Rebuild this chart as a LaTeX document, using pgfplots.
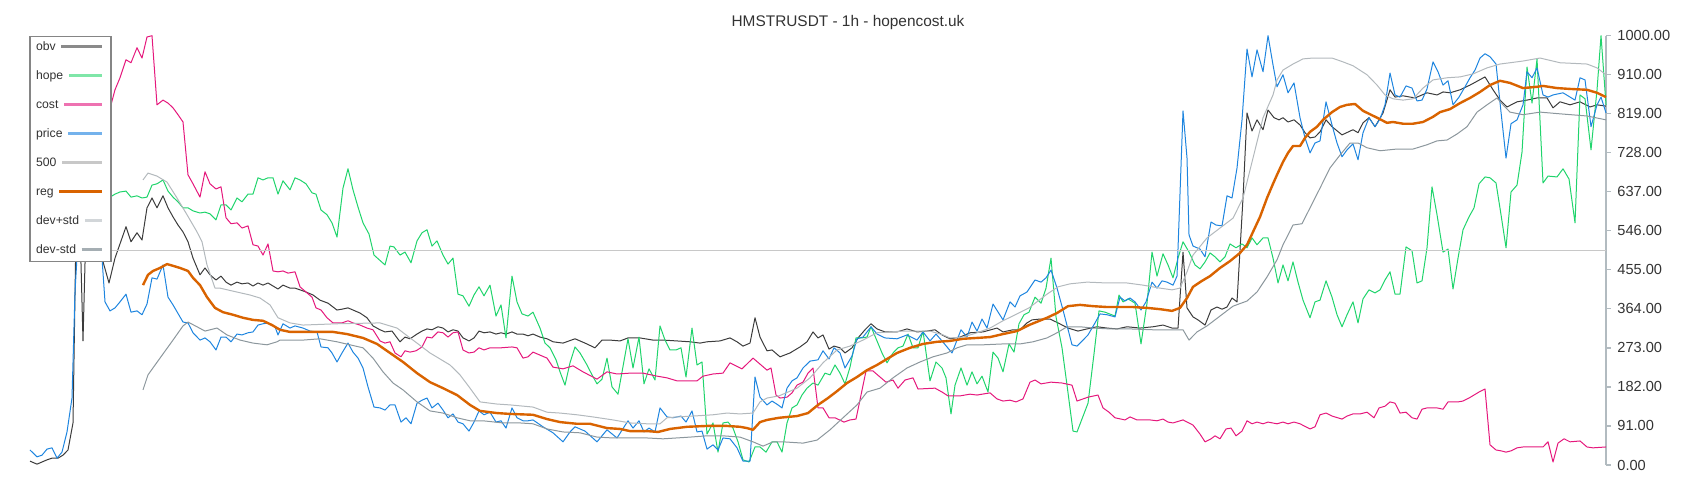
\documentclass[border=0pt]{standalone}
\usepackage{pgfplots}
\pgfplotsset{compat=1.18}
\usepackage{fontspec}
\setmainfont{Liberation Sans}
\definecolor{obvc}{HTML}{3C3C3C}\definecolor{obvleg}{HTML}{8A8A8A}
\definecolor{hopec}{HTML}{20D46C}\definecolor{hopeleg}{HTML}{7FE6A8}
\definecolor{costc}{HTML}{E5187C}\definecolor{costleg}{HTML}{EE72B1}
\definecolor{pricec}{HTML}{1E85DF}\definecolor{priceleg}{HTML}{74B2EC}
\definecolor{c500}{HTML}{C8C8C8}\definecolor{leg500}{HTML}{C8C8C8}
\definecolor{regc}{HTML}{D96300}\definecolor{regleg}{HTML}{D96300}
\definecolor{devpc}{HTML}{B3B9BD}\definecolor{devpleg}{HTML}{D2D6D9}
\definecolor{devmc}{HTML}{8C979D}\definecolor{devmleg}{HTML}{A5AEB3}
\definecolor{axisgrey}{HTML}{B2BBC0}
\definecolor{legborder}{HTML}{858585}
\definecolor{textdark}{HTML}{333333}
\newcommand{\legent}[2]{\hbox to 34.2pt{#1\hskip 2.8pt{\color{#2}\leaders\hrule height 2.9pt depth -1.3pt\hfill}\hskip 1.5pt}}
\begin{document}
\begin{tikzpicture}
\useasboundingbox (0,0) rectangle (850pt,250pt);
\begin{axis}[
  at={(14.5pt,17.5pt)}, anchor=south west,
  scale only axis, width=788.5pt, height=214.65pt,
  xmin=29, xmax=1606, ymin=0, ymax=1000,
  axis x line=none, axis y line*=right,
  y axis line style={draw=axisgrey, line width=0.75pt},
  ytick={0,91,182,273,364,455,546,637,728,819,910,1000},
  tick align=outside, major tick length=2.3pt,
  ytick style={draw=axisgrey, line width=0.75pt},
  scaled y ticks=false,
  yticklabel style={font=\fontsize{7.3}{8}\selectfont, text=textdark, inner sep=0pt, xshift=3.2pt},
  y tick label style={/pgf/number format/fixed, /pgf/number format/fixed zerofill, /pgf/number format/precision=2, /pgf/number format/1000 sep={}, /pgf/number format/assume math mode=true},
  clip=false,
  title={HMSTRUSDT - 1h - hopencost.uk},
  title style={at={(0.5,1)}, anchor=center, xshift=15.25pt, yshift=0.5pt, font=\fontsize{7.7}{9}\selectfont, text=textdark},
  legend plot pos=none,
  legend cell align=left,
  legend style={at={(0,1)}, anchor=north west, draw=legborder, line width=0.8pt, fill=white,
    inner xsep=3.15pt, inner ysep=2.6pt, row sep=8.7pt, font=\fontsize{6.1}{6.5}\selectfont, text=textdark,
    nodes={inner sep=0pt, text height=4.4pt, text depth=1.4pt, anchor=west}},
  every axis plot/.append style={line join=round, mark=none},
]
\addplot[obvc, line width=0.5pt] coordinates {(30,9)(37,2)(47,12)(52,16)(58,16)(63,23)(68,35)(73,98)(76,545)(80,559)(83,289)(86,559)(95,536)(102,482)(109,424)(115,482)(126,555)(131,520)(137,541)(142,524)(147,599)(152,622)(157,599)(163,627)(168,599)(173,578)(178,559)(183,543)(188,520)(193,482)(200,443)(205,459)(210,443)(216,431)(221,440)(226,426)(231,419)(237,426)(242,422)(248,424)(253,417)(258,424)(263,419)(268,424)(273,417)(278,410)(283,419)(290,412)(295,412)(300,408)(306,403)(313,396)(320,384)(328,377)(337,361)(342,363)(348,366)(353,361)(360,354)(367,343)(373,324)(380,315)(385,310)(392,312)(400,287)(405,298)(410,294)(417,305)(422,312)(427,317)(432,315)(438,322)(443,319)(448,310)(453,315)(458,312)(463,296)(469,289)(474,296)(479,312)(484,308)(490,310)(496,305)(501,308)(506,305)(512,310)(517,305)(523,305)(528,301)(533,305)(540,298)(547,294)(553,287)(563,284)(575,294)(585,284)(595,273)(602,291)(610,291)(620,289)(628,296)(640,296)(653,291)(663,291)(677,289)(690,287)(700,284)(707,287)(720,289)(730,296)(737,287)(743,277)(750,284)(755,343)(760,298)(767,266)(772,268)(780,252)(790,261)(800,275)(807,287)(813,310)(818,296)(823,303)(829,270)(834,277)(840,273)(845,261)(852,273)(858,296)(865,315)(871,329)(877,317)(885,310)(897,310)(907,317)(917,310)(927,312)(935,315)(942,303)(950,294)(960,298)(970,308)(983,310)(997,319)(1003,310)(1013,315)(1020,315)(1027,331)(1032,338)(1040,340)(1050,340)(1058,331)(1068,319)(1078,312)(1087,317)(1097,322)(1107,319)(1117,317)(1127,322)(1140,319)(1153,322)(1163,326)(1172,319)(1178,319)(1183,496)(1187,366)(1193,345)(1198,338)(1205,326)(1211,361)(1217,368)(1222,363)(1227,368)(1232,389)(1237,380)(1243,622)(1247,820)(1252,778)(1257,804)(1263,781)(1268,827)(1274,809)(1279,804)(1283,809)(1288,799)(1294,804)(1300,792)(1305,774)(1310,762)(1315,764)(1320,776)(1326,804)(1332,788)(1342,769)(1353,781)(1358,774)(1363,797)(1369,809)(1375,788)(1383,820)(1390,874)(1395,857)(1403,860)(1415,855)(1427,867)(1437,862)(1443,869)(1450,867)(1460,874)(1470,885)(1485,904)(1493,874)(1500,850)(1507,834)(1517,846)(1527,850)(1537,855)(1547,855)(1553,832)(1560,846)(1570,839)(1580,846)(1590,834)(1597,839)(1606,836)};
\addlegendentry{\legent{obv}{obvleg}}
\addplot[hopec, line width=0.5pt] coordinates {(98,621)(102,624)(110,624)(115,631)(120,636)(126,638)(131,624)(137,627)(142,622)(147,624)(152,652)(157,655)(163,664)(168,638)(173,624)(178,613)(183,599)(188,599)(193,592)(200,587)(205,589)(210,585)(216,571)(221,606)(226,606)(231,594)(237,622)(242,613)(248,631)(253,631)(258,669)(263,664)(268,669)(273,669)(278,631)(283,662)(290,641)(295,669)(300,664)(306,655)(312,634)(316,631)(321,594)(327,583)(332,564)(337,531)(343,645)(348,690)(353,641)(358,601)(363,564)(369,538)(374,489)(385,466)(390,510)(394,508)(400,489)(405,496)(411,471)(417,522)(422,541)(427,548)(432,510)(437,522)(443,489)(448,468)(453,482)(458,398)(463,394)(469,370)(474,396)(479,415)(484,394)(490,419)(496,347)(501,373)(506,296)(512,440)(517,380)(522,352)(528,347)(533,356)(540,319)(545,284)(550,273)(556,245)(560,217)(565,186)(570,238)(575,275)(580,261)(587,233)(592,210)(597,189)(602,200)(607,249)(612,182)(618,165)(628,294)(633,226)(639,298)(644,189)(649,224)(655,198)(660,324)(665,291)(670,268)(676,268)(681,273)(686,205)(692,319)(697,233)(702,240)(707,72)(713,98)(718,30)(723,98)(728,100)(733,86)(738,54)(743,12)(749,7)(755,42)(760,42)(766,30)(772,54)(777,54)(782,30)(787,98)(792,133)(797,140)(802,163)(807,179)(813,191)(818,186)(825,214)(830,210)(835,233)(840,214)(845,189)(850,228)(856,296)(862,296)(867,298)(871,322)(877,289)(882,261)(887,238)(893,261)(898,273)(903,277)(908,305)(913,273)(918,273)(923,312)(930,196)(936,240)(942,226)(946,203)(951,119)(955,186)(961,226)(967,186)(972,217)(977,189)(982,207)(988,170)(993,263)(998,249)(1003,217)(1009,282)(1014,263)(1019,329)(1024,350)(1029,356)(1035,391)(1041,377)(1046,412)(1051,482)(1056,345)(1062,273)(1067,186)(1073,79)(1077,77)(1088,144)(1094,259)(1099,359)(1105,356)(1115,347)(1119,396)(1123,380)(1128,387)(1135,377)(1141,282)(1147,377)(1152,496)(1157,440)(1163,492)(1168,466)(1173,436)(1178,482)(1183,520)(1189,496)(1195,466)(1200,457)(1205,473)(1210,494)(1215,485)(1220,473)(1225,485)(1230,515)(1236,506)(1242,515)(1247,506)(1252,529)(1257,513)(1263,529)(1268,529)(1273,482)(1278,424)(1283,466)(1288,429)(1293,473)(1298,426)(1303,384)(1310,343)(1315,380)(1320,384)(1326,429)(1332,391)(1337,350)(1342,322)(1347,350)(1353,380)(1358,331)(1363,387)(1369,408)(1375,401)(1380,408)(1385,431)(1390,450)(1395,398)(1400,398)(1406,508)(1412,499)(1417,424)(1422,429)(1427,506)(1432,648)(1437,583)(1443,496)(1448,503)(1453,410)(1458,482)(1463,548)(1469,578)(1474,599)(1479,655)(1485,671)(1490,669)(1496,657)(1501,583)(1506,506)(1511,636)(1517,652)(1522,729)(1527,927)(1532,843)(1537,946)(1543,657)(1548,673)(1557,671)(1563,690)(1569,666)(1575,564)(1580,862)(1585,853)(1591,734)(1597,874)(1601,1000)(1606,839)};
\addlegendentry{\legent{hope}{hopeleg}}
\addplot[costc, line width=0.5pt] coordinates {(100,757)(105,804)(111,839)(115,874)(120,902)(126,944)(131,937)(137,972)(142,948)(147,997)(152,1000)(157,839)(163,850)(168,843)(173,832)(178,816)(183,799)(188,676)(193,655)(200,624)(205,683)(210,655)(216,643)(221,648)(226,576)(231,562)(237,564)(242,552)(248,557)(253,513)(258,510)(263,489)(268,515)(273,452)(278,450)(283,452)(288,447)(295,450)(300,415)(306,403)(312,391)(316,366)(321,361)(327,343)(333,331)(342,331)(348,336)(353,331)(360,326)(367,319)(373,315)(380,289)(385,284)(390,287)(395,261)(401,252)(405,266)(410,263)(416,266)(422,275)(427,298)(432,296)(438,310)(443,308)(448,298)(453,308)(458,310)(463,268)(469,261)(474,263)(479,273)(484,268)(490,273)(501,273)(512,275)(517,273)(523,249)(528,252)(533,263)(540,256)(547,249)(553,228)(563,224)(573,231)(583,217)(597,200)(607,217)(617,212)(630,214)(643,214)(657,207)(667,203)(677,196)(697,196)(703,207)(713,212)(723,214)(730,238)(742,224)(753,249)(767,221)(771,226)(776,163)(780,156)(787,158)(792,168)(797,186)(803,193)(808,214)(813,226)(818,133)(823,133)(829,110)(835,110)(844,100)(850,105)(856,107)(866,219)(873,219)(880,205)(886,193)(893,198)(898,179)(905,198)(913,203)(918,177)(935,179)(942,170)(948,161)(960,161)(970,165)(977,163)(990,168)(997,154)(1003,149)(1010,151)(1016,147)(1023,154)(1030,193)(1035,198)(1041,189)(1051,193)(1062,191)(1072,186)(1077,149)(1088,158)(1098,163)(1103,133)(1109,123)(1115,110)(1125,105)(1130,112)(1137,105)(1150,105)(1157,103)(1163,107)(1168,100)(1173,98)(1183,105)(1193,93)(1200,72)(1205,54)(1211,61)(1215,68)(1220,61)(1226,84)(1231,86)(1236,68)(1242,79)(1247,103)(1252,96)(1257,100)(1263,96)(1268,100)(1277,96)(1283,100)(1288,96)(1294,100)(1300,96)(1310,84)(1315,89)(1320,117)(1326,121)(1332,114)(1342,107)(1347,114)(1353,119)(1360,119)(1367,123)(1374,110)(1379,133)(1385,137)(1390,147)(1395,144)(1400,121)(1406,123)(1412,110)(1417,107)(1422,130)(1427,133)(1437,133)(1443,130)(1448,147)(1458,147)(1463,149)(1469,156)(1474,163)(1479,170)(1485,177)(1490,47)(1496,35)(1501,33)(1506,30)(1511,33)(1517,40)(1523,42)(1537,42)(1543,42)(1548,54)(1553,7)(1558,51)(1564,61)(1570,54)(1580,56)(1587,42)(1593,40)(1606,42)};
\addlegendentry{\legent{cost}{costleg}}
\addplot[pricec, line width=0.5pt] coordinates {(30,35)(37,19)(42,23)(47,37)(52,40)(57,16)(62,30)(67,77)(72,156)(75,403)(78,524)(85,548)(95,524)(102,482)(105,380)(110,359)(115,366)(120,380)(126,398)(131,356)(137,359)(142,350)(147,375)(152,436)(157,433)(163,466)(168,391)(173,373)(183,333)(188,331)(193,308)(200,291)(205,296)(210,287)(216,268)(221,298)(226,298)(231,287)(237,305)(242,303)(248,308)(253,310)(258,326)(263,329)(268,331)(275,322)(278,303)(283,329)(290,319)(295,324)(303,319)(310,312)(317,310)(321,275)(328,273)(332,261)(337,240)(342,261)(348,284)(353,263)(358,249)(363,226)(368,182)(374,135)(380,133)(385,128)(390,140)(395,140)(401,100)(406,110)(411,96)(417,144)(422,151)(427,156)(432,133)(438,144)(443,128)(448,110)(453,119)(458,100)(463,96)(469,79)(474,100)(479,126)(484,117)(490,123)(496,100)(501,103)(506,86)(512,133)(517,110)(523,103)(528,103)(533,105)(543,89)(553,75)(563,54)(570,77)(575,89)(585,79)(597,54)(607,82)(617,63)(628,103)(633,86)(639,103)(644,77)(649,86)(655,77)(660,133)(667,112)(673,110)(681,114)(686,100)(692,126)(697,77)(702,79)(707,37)(713,47)(718,35)(723,63)(730,61)(737,40)(743,9)(750,9)(755,205)(760,158)(767,140)(772,149)(778,140)(782,133)(787,179)(792,196)(797,203)(803,226)(810,242)(818,245)(823,266)(829,247)(834,273)(840,261)(845,226)(852,254)(857,294)(863,298)(871,322)(877,305)(885,296)(897,294)(907,303)(917,291)(923,310)(930,289)(936,305)(942,289)(952,261)(961,315)(967,298)(972,333)(977,312)(982,340)(987,319)(993,375)(1003,338)(1010,380)(1015,368)(1020,394)(1027,403)(1035,431)(1041,426)(1046,436)(1051,454)(1057,412)(1063,361)(1072,280)(1077,277)(1083,291)(1088,303)(1095,331)(1100,352)(1107,350)(1115,345)(1120,391)(1125,382)(1130,389)(1135,380)(1141,361)(1146,380)(1152,426)(1157,412)(1162,429)(1167,426)(1173,419)(1177,440)(1183,825)(1187,715)(1189,536)(1193,510)(1200,503)(1205,485)(1211,566)(1216,559)(1222,557)(1227,627)(1232,622)(1237,692)(1242,804)(1247,969)(1252,904)(1257,967)(1263,916)(1268,1000)(1273,932)(1277,881)(1283,909)(1288,867)(1294,890)(1300,809)(1305,762)(1310,727)(1315,750)(1320,755)(1326,846)(1332,792)(1337,750)(1342,718)(1347,734)(1353,748)(1358,711)(1363,774)(1369,809)(1375,788)(1380,806)(1385,839)(1390,913)(1395,862)(1400,857)(1406,883)(1412,878)(1417,848)(1422,850)(1427,876)(1433,939)(1438,916)(1443,885)(1448,895)(1453,839)(1459,857)(1465,881)(1470,902)(1475,920)(1480,948)(1485,958)(1490,951)(1496,934)(1501,822)(1506,715)(1511,795)(1517,804)(1523,839)(1527,916)(1532,902)(1537,925)(1543,862)(1548,857)(1553,862)(1563,867)(1575,850)(1580,902)(1585,897)(1591,788)(1597,839)(1601,857)(1606,820)};
\addlegendentry{\legent{price}{priceleg}}
\addplot[c500, line width=0.75pt] coordinates {(29,500)(1606,500)};
\addlegendentry{\legent{500}{leg500}}
\addplot[regc, line width=1.2pt] coordinates {(143,419)(148,443)(153,452)(160,459)(167,468)(173,464)(180,459)(188,452)(193,436)(200,419)(207,391)(215,366)(223,356)(233,350)(243,343)(253,338)(263,336)(272,326)(280,315)(290,310)(303,310)(320,310)(333,310)(347,305)(363,296)(377,282)(390,261)(403,240)(417,214)(430,193)(443,179)(457,163)(470,140)(480,126)(497,121)(510,119)(533,117)(547,107)(560,100)(577,96)(590,96)(607,86)(620,84)(630,79)(647,79)(658,77)(670,84)(687,89)(707,91)(727,91)(740,89)(747,86)(753,82)(760,100)(767,105)(779,110)(797,114)(808,121)(818,140)(828,156)(837,172)(847,191)(857,205)(867,221)(877,233)(887,247)(897,261)(910,273)(923,282)(937,287)(950,289)(963,294)(977,296)(990,298)(1003,305)(1017,312)(1029,326)(1047,343)(1057,354)(1068,370)(1080,373)(1093,370)(1107,368)(1120,368)(1133,368)(1147,366)(1160,363)(1172,359)(1180,366)(1187,389)(1193,415)(1202,429)(1210,440)(1220,459)(1230,475)(1240,494)(1247,513)(1253,543)(1260,578)(1267,622)(1273,655)(1277,676)(1283,706)(1288,727)(1293,743)(1300,743)(1305,762)(1310,776)(1317,788)(1323,804)(1332,822)(1340,834)(1347,839)(1355,841)(1363,825)(1377,809)(1387,797)(1393,799)(1403,795)(1413,795)(1423,799)(1433,811)(1440,822)(1450,829)(1460,843)(1470,855)(1480,869)(1490,885)(1500,895)(1510,890)(1523,878)(1537,881)(1543,883)(1557,878)(1570,876)(1587,874)(1597,867)(1606,857)};
\addlegendentry{\legent{reg}{regleg}}
\addplot[devpc, line width=0.5pt] coordinates {(143,664)(148,680)(157,673)(167,659)(177,622)(187,583)(197,543)(202,520)(207,466)(215,412)(220,412)(233,405)(250,396)(260,389)(270,373)(278,343)(290,331)(303,326)(337,329)(380,331)(397,319)(413,291)(430,261)(450,233)(460,210)(470,179)(480,147)(497,142)(510,140)(533,135)(547,123)(560,121)(577,117)(593,112)(613,105)(630,98)(647,96)(660,96)(667,110)(677,112)(693,114)(713,117)(727,121)(740,119)(753,121)(760,147)(767,156)(779,161)(797,179)(810,203)(823,238)(837,268)(850,277)(863,291)(877,308)(890,310)(903,312)(930,312)(943,303)(950,296)(963,298)(977,308)(990,319)(1003,336)(1017,352)(1029,366)(1047,398)(1058,415)(1070,422)(1087,426)(1107,424)(1127,424)(1143,419)(1160,412)(1172,408)(1180,412)(1187,450)(1193,489)(1207,529)(1220,552)(1233,575)(1243,622)(1253,715)(1263,809)(1273,862)(1277,897)(1283,920)(1293,934)(1303,946)(1313,948)(1323,948)(1332,948)(1343,939)(1353,930)(1367,909)(1377,885)(1385,862)(1393,853)(1403,850)(1413,853)(1423,878)(1433,897)(1447,902)(1460,904)(1473,911)(1487,925)(1500,934)(1510,937)(1523,941)(1540,948)(1560,937)(1587,934)(1597,925)(1606,909)};
\addlegendentry{\legent{dev+std}{devpleg}}
\addplot[devmc, line width=0.5pt] coordinates {(143,175)(148,210)(160,249)(173,291)(183,324)(188,333)(197,322)(205,312)(217,319)(227,303)(240,291)(253,284)(267,280)(277,287)(280,291)(303,291)(320,294)(337,287)(350,280)(363,273)(373,249)(383,217)(393,191)(403,175)(417,147)(430,126)(443,121)(457,110)(470,103)(483,103)(503,98)(520,98)(533,96)(547,84)(563,77)(580,75)(597,65)(613,63)(647,63)(663,61)(690,65)(707,68)(723,68)(740,65)(753,54)(763,44)(773,54)(783,54)(803,51)(817,58)(830,82)(843,110)(857,140)(867,170)(880,179)(893,203)(907,226)(920,240)(933,252)(947,261)(957,273)(967,280)(983,280)(1003,282)(1020,282)(1033,287)(1047,296)(1057,308)(1067,322)(1080,322)(1093,319)(1110,317)(1130,317)(1153,315)(1170,315)(1183,315)(1189,291)(1197,310)(1207,324)(1220,347)(1233,370)(1247,382)(1257,403)(1267,438)(1270,450)(1277,478)(1283,513)(1293,559)(1302,562)(1310,599)(1320,645)(1330,692)(1340,722)(1350,750)(1358,750)(1367,739)(1380,732)(1397,736)(1413,736)(1427,746)(1437,755)(1447,757)(1457,771)(1467,788)(1477,822)(1487,839)(1497,855)(1503,839)(1510,822)(1523,816)(1540,822)(1560,818)(1587,813)(1606,804)};
\addlegendentry{\legent{dev-std}{devmleg}}
\end{axis}
\end{tikzpicture}
\end{document}
